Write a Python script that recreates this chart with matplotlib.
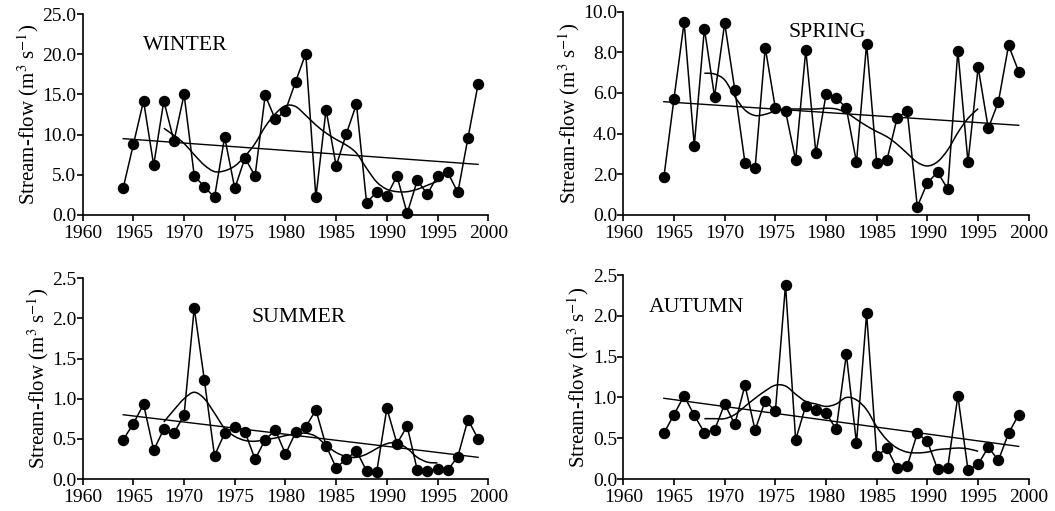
import matplotlib
matplotlib.use("Agg")
import matplotlib.pyplot as plt
import numpy as np
from matplotlib.path import Path
from matplotlib.patches import PathPatch

plt.rcParams['font.family'] = ['Liberation Serif', 'DejaVu Serif']
plt.rcParams['mathtext.fontset'] = 'stix'

years = np.arange(1964, 2000)
smooth_years = np.arange(1968, 1996)

winter = [3.4, 8.8, 14.2, 6.2, 14.2, 9.2, 15.0, 4.9, 3.5, 2.2, 9.7, 3.3, 7.1, 4.85, 14.9, 11.9, 13.0, 16.6,
          20.1, 2.2, 13.1, 6.1, 10.1, 13.8, 1.5, 2.9, 2.4, 4.85, 0.2, 4.3, 2.6, 4.9, 5.3, 2.8, 9.6, 16.3]
spring = [1.85, 5.72, 9.48, 3.41, 9.16, 5.82, 9.43, 6.15, 2.57, 2.3, 8.23, 5.25, 5.11, 2.7, 8.11, 3.03, 5.93, 5.77,
          5.25, 2.59, 8.43, 2.54, 2.7, 4.75, 5.13, 0.41, 1.59, 2.1, 1.28, 8.08, 2.59, 7.26, 4.26, 5.57, 8.34, 7.05]
summer = [0.49, 0.69, 0.93, 0.36, 0.62, 0.57, 0.8, 2.13, 1.23, 0.29, 0.57, 0.65, 0.59, 0.245, 0.49, 0.61, 0.31, 0.58,
          0.65, 0.86, 0.415, 0.14, 0.25, 0.35, 0.1, 0.09, 0.88, 0.44, 0.66, 0.11, 0.1, 0.13, 0.11, 0.28, 0.74, 0.5]
autumn = [0.56, 0.79, 1.02, 0.78, 0.57, 0.6, 0.92, 0.67, 1.15, 0.6, 0.96, 0.83, 2.38, 0.48, 0.9, 0.85, 0.81, 0.61,
          1.53, 0.44, 2.03, 0.28, 0.38, 0.13, 0.16, 0.56, 0.46, 0.12, 0.14, 1.02, 0.11, 0.18, 0.39, 0.23, 0.56, 0.79]

# smoothed curves (one value per year)
winter_smooth = [10.8, 9.9, 8.9, 7.5, 6.2, 5.4, 5.5, 6.1, 7.3, 8.9, 11.0, 12.6, 13.6, 13.5, 12.4, 11.2, 10.2, 9.4,
                 8.7, 7.7, 5.8, 4.1, 3.2, 2.9, 2.9, 3.2, 3.7, 4.2]
spring_smooth = [6.97, 6.93, 6.64, 5.82, 5.16, 4.89, 4.95, 5.11, 5.2, 5.21, 5.21, 5.21, 5.25, 5.21, 5.03, 4.7, 4.38,
                 4.1, 3.85, 3.48, 3.03, 2.59, 2.41, 2.62, 3.2, 4.05, 4.75, 5.23]
summer_smooth = [0.71, 0.86, 1.0, 1.08, 1.0, 0.82, 0.63, 0.53, 0.48, 0.47, 0.49, 0.51, 0.54, 0.56, 0.57, 0.53, 0.42,
                 0.33, 0.28, 0.27, 0.31, 0.38, 0.44, 0.45, 0.38, 0.27, 0.21, 0.2]
autumn_smooth = [0.74, 0.74, 0.74, 0.79, 0.89, 0.99, 1.08, 1.15, 1.14, 1.04, 0.95, 0.92, 0.89, 0.92, 1.0, 0.97, 0.85,
                 0.64, 0.48, 0.38, 0.33, 0.32, 0.33, 0.36, 0.37, 0.38, 0.37, 0.34]

# linear trend end points (1964, 1999)
winter_trend = [9.5, 6.3]
spring_trend = [5.57, 4.41]
summer_trend = [0.80, 0.27]
autumn_trend = [0.99, 0.40]

panels = [
    ("WINTER", winter, winter_smooth, winter_trend, 25.0, 5.0, [0.0784, 0.5793, 0.3844, 0.393], (0.148, 0.846)),
    ("SPRING", spring, spring_smooth, spring_trend, 10.0, 2.0, [0.5908, 0.5793, 0.3844, 0.398], (0.407, 0.896)),
    ("SUMMER", summer, summer_smooth, summer_trend, 2.5, 0.5, [0.0784, 0.0626, 0.3844, 0.393], (0.417, 0.806)),
    ("AUTUMN", autumn, autumn_smooth, autumn_trend, 2.5, 0.5, [0.5908, 0.0626, 0.3844, 0.399], (0.062, 0.843)),
]


def bezier_path(x, y):
    # cubic bezier through the points (catmull-rom control points), so the curve is drawn smooth
    p = np.column_stack([x, y]).astype(float)
    verts = [p[0]]
    codes = [Path.MOVETO]
    for i in range(len(p) - 1):
        p0 = p[max(i - 1, 0)]
        p1 = p[i]
        p2 = p[i + 1]
        p3 = p[min(i + 2, len(p) - 1)]
        verts += [p1 + (p2 - p0) / 6, p2 - (p3 - p1) / 6, p2]
        codes += [Path.CURVE4] * 3
    return Path(verts, codes)


fig = plt.figure(figsize=(10.55, 5.11), dpi=100)

for name, vals, smooth, trend, ymax, ystep, pos, txt in panels:
    ax = fig.add_axes(pos)
    ax.plot(years, vals, color='black', lw=1.1, marker='o', ms=7.2, clip_on=False, zorder=3)
    ax.add_patch(PathPatch(bezier_path(smooth_years, smooth), fill=False, edgecolor='black', lw=1.1))
    ax.plot([years[0], years[-1]], trend, color='black', lw=1.0)
    ax.set_xlim(1960, 2000)
    ax.set_ylim(0, ymax)
    ax.set_xticks(np.arange(1960, 2001, 5))
    yt = np.arange(0, ymax + ystep / 2, ystep)
    ax.set_yticks(yt)
    ax.set_yticklabels(["%.1f" % v for v in yt])
    ax.spines['top'].set_visible(False)
    ax.spines['right'].set_visible(False)
    ax.spines['left'].set_linewidth(1.2)
    ax.spines['bottom'].set_linewidth(1.2)
    ax.tick_params(direction='out', length=4, width=1.2, labelsize=14)
    ax.tick_params(axis='x', pad=3)
    ax.tick_params(axis='y', pad=0.5)
    ax.set_ylabel("Stream-flow (m$^3$ s$^{-1}$)", fontsize=15, labelpad=1)
    ax.text(txt[0], txt[1], name, transform=ax.transAxes, fontsize=15.7, va='center', ha='left')

fig.savefig("out.png", dpi=100)
